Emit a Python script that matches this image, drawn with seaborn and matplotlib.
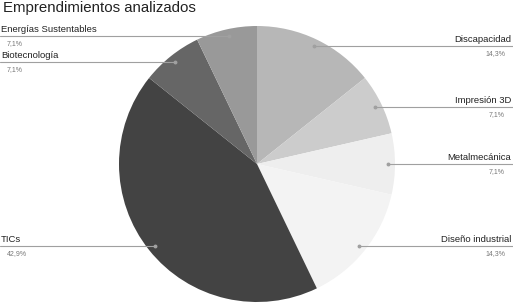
import numpy as np
import matplotlib
matplotlib.use("Agg")
import matplotlib.pyplot as plt
import seaborn as sns

categories = ["Discapacidad", "Impresión 3D", "Metalmecánica", "Diseño industrial",
              "TICs", "Biotecnología", "Energías Sustentables"]
counts = [2, 1, 1, 2, 6, 1, 1]
colors = ["#b7b7b7", "#cccccc", "#eeeeee", "#f3f3f3", "#434343", "#666666", "#999999"]
title = "Emprendimientos analizados"

# label layout (pixel rows of the leader lines, side)
label_rows = [46, 107, 164, 246, 246, 62, 36]
label_side = ["r", "r", "r", "r", "l", "l", "l"]

sns.set_theme(style="white")
plt.rcParams["font.family"] = ["Liberation Sans", "DejaVu Sans"]

W, H = 513, 303
fig = plt.figure(figsize=(W / 100, H / 100), dpi=100)
ax = fig.add_axes([0, 0, 1, 1])

cx, cy, R = 257, H - 164, 138
ax.pie(counts, colors=colors, startangle=90, counterclock=False,
       center=(cx, cy), radius=R, frame=True,
       wedgeprops=dict(linewidth=0))
ax.set_xlim(0, W)
ax.set_ylim(0, H)
ax.set_aspect("equal")
ax.axis("off")

total = sum(counts)
for cat, c, row, side in zip(categories, counts, label_rows, label_side):
    y = H - row
    dy = y - cy
    r = 0.95 * R
    dx = np.sqrt(max(r * r - dy * dy, 0))
    pct = f"{100 * c / total:.1f}%".replace(".", ",")
    if side == "r":
        xd = cx + dx
        ax.plot([xd, W], [y, y], color="#a0a0a0", lw=0.8, zorder=3)
        ax.plot([xd], [y], marker="o", ms=1.8, color="#a0a0a0", zorder=4)
        ax.text(W - 2, y + 2, cat, ha="right", va="bottom", fontsize=6.8, color="#222222")
        ax.text(W - 8, y - 4, pct, ha="right", va="top", fontsize=5, color="#777777")
    else:
        xd = cx - dx
        ax.plot([0, xd], [y, y], color="#a0a0a0", lw=0.8, zorder=3)
        ax.plot([xd], [y], marker="o", ms=1.8, color="#a0a0a0", zorder=4)
        ax.text(1, y + 2, cat, ha="left", va="bottom", fontsize=6.8, color="#222222")
        ax.text(7, y - 4, pct, ha="left", va="top", fontsize=5, color="#777777")

ax.text(3, H - 1, title, ha="left", va="top", fontsize=10.8, color="#222222")

fig.savefig("out.png", dpi=100)
